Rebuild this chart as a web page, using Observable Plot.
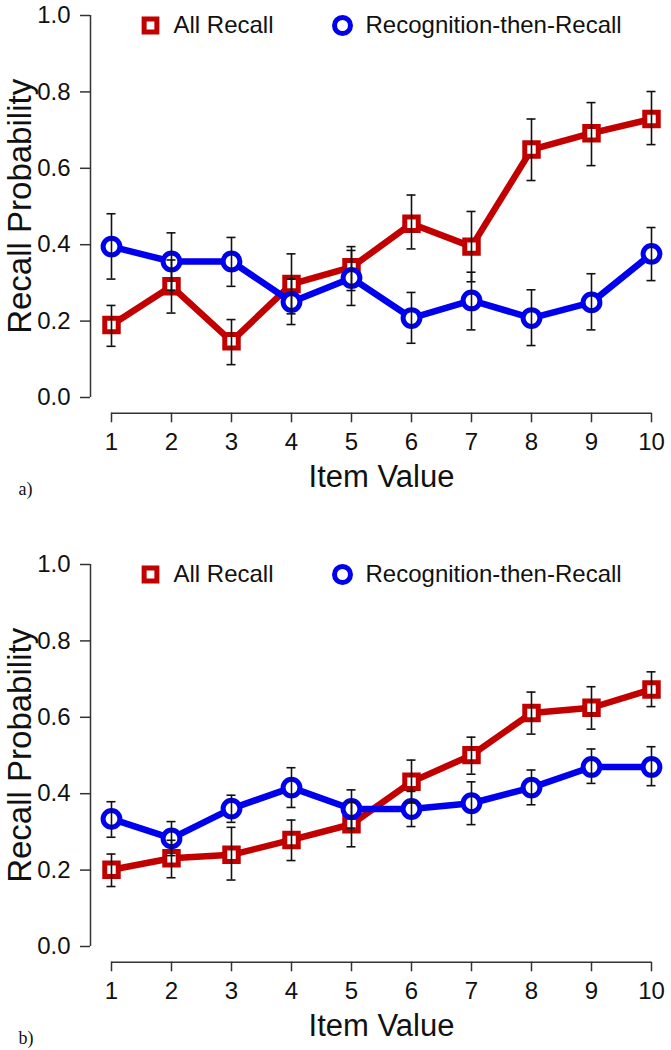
<!DOCTYPE html>
<html><head><meta charset="utf-8">
<script src="https://cdn.jsdelivr.net/npm/d3@7"></script>
<script src="https://cdn.jsdelivr.net/npm/@observablehq/plot@0.6"></script>
<style>
body{margin:0;background:#fff;width:671px;height:1050px;overflow:hidden}
#chart svg{display:block}
</style></head><body><div id="chart"></div>
<script>
// ---- data ----
const items = [1, 2, 3, 4, 5, 6, 7, 8, 9, 10];
const yTicks = [0, 0.2, 0.4, 0.6, 0.8, 1.0];
const seriesNames = ["All Recall", "Recognition-then-Recall"];
const panelTags = ["a)", "b)"];

// Panel a
const aRecall   = [0.190, 0.291, 0.147, 0.297, 0.341, 0.455, 0.395, 0.649, 0.692, 0.729];
const aRecallLo = [0.134, 0.221, 0.086, 0.219, 0.280, 0.389, 0.303, 0.568, 0.607, 0.662];
const aRecallHi = [0.241, 0.360, 0.204, 0.376, 0.395, 0.530, 0.487, 0.729, 0.772, 0.801];
const aRecog    = [0.395, 0.356, 0.356, 0.250, 0.313, 0.208, 0.254, 0.208, 0.249, 0.376];
const aRecogLo  = [0.310, 0.281, 0.291, 0.191, 0.241, 0.142, 0.177, 0.136, 0.177, 0.306];
const aRecogHi  = [0.481, 0.431, 0.419, 0.310, 0.385, 0.275, 0.328, 0.282, 0.324, 0.445];

// Panel b
const bRecall   = [0.201, 0.231, 0.240, 0.279, 0.320, 0.431, 0.501, 0.611, 0.625, 0.673];
const bRecallLo = [0.157, 0.180, 0.174, 0.225, 0.261, 0.376, 0.451, 0.556, 0.569, 0.628];
const bRecallHi = [0.242, 0.278, 0.312, 0.331, 0.378, 0.488, 0.548, 0.666, 0.680, 0.719];
const bRecog    = [0.334, 0.283, 0.361, 0.416, 0.360, 0.360, 0.375, 0.416, 0.470, 0.470];
const bRecogLo  = [0.286, 0.238, 0.325, 0.364, 0.310, 0.314, 0.319, 0.371, 0.427, 0.421];
const bRecogHi  = [0.379, 0.327, 0.396, 0.468, 0.410, 0.406, 0.431, 0.462, 0.517, 0.523];

const RED = "#c20000";
const BLUE = "#0000ee";

function rows(v, lo, hi) {
  return items.map((x, i) => ({x, y: v[i], lo: lo[i], hi: hi[i]}));
}

function panel(recall, recog, tag, height) {
  const marginBottom = height - 412.7;
  const both = recall.concat(recog);
  const cap = 0.075;
  return Plot.plot({
    width: 671,
    height,
    marginLeft: 90,
    marginRight: 20,
    marginTop: 15,
    marginBottom,
    x: {domain: [1, 10], insetLeft: 21},
    y: {domain: [0, 1], insetBottom: 15.7},
    style: {fontFamily: "'Liberation Sans', Arial, sans-serif", fontSize: "24px", color: "#111", background: "#fff"},
    marks: [
      // axes
      Plot.ruleX([1], {y1: 0, y2: 1, dx: -21, stroke: "#333", strokeWidth: 1.5}),
      Plot.ruleY([0], {x1: 1, x2: 10, dy: 15.7, stroke: "#333", strokeWidth: 1.5}),
      Plot.axisY({ticks: yTicks, tickFormat: d3.format(".1f"), tickSize: 10, tickPadding: 10, label: null, stroke: "#333", strokeWidth: 1.5}),
      Plot.axisX({ticks: items, tickFormat: d => String(d), tickSize: 9.6, tickPadding: 9.7, label: null, stroke: "#333", strokeWidth: 1.5}),
      // series
      Plot.line(recall, {x: "x", y: "y", stroke: RED, strokeWidth: 6.5}),
      Plot.dot(recall, {x: "x", y: "y", symbol: "square", r: 7.6, stroke: RED, strokeWidth: 5, fill: "#fff"}),
      Plot.line(recog, {x: "x", y: "y", stroke: BLUE, strokeWidth: 6.5}),
      Plot.dot(recog, {x: "x", y: "y", symbol: "circle", r: 8.4, stroke: BLUE, strokeWidth: 5, fill: "#fff"}),
      // error bars
      Plot.ruleX(both, {x: "x", y1: "lo", y2: "hi", stroke: "#111", strokeWidth: 1.6}),
      Plot.ruleY(both, {y: "hi", x1: d => d.x - cap, x2: d => d.x + cap, stroke: "#111", strokeWidth: 1.6}),
      Plot.ruleY(both, {y: "lo", x1: d => d.x - cap, x2: d => d.x + cap, stroke: "#111", strokeWidth: 1.6}),
      // legend
      Plot.dot([0], {frameAnchor: "top-left", dx: 60, dy: 10, symbol: "square", r: 7.2, stroke: RED, strokeWidth: 5, fill: "#fff"}),
      Plot.text([seriesNames[0]], {frameAnchor: "top-left", dx: 83, dy: 10, textAnchor: "start", lineAnchor: "middle", fontSize: 24, fill: "#111"}),
      Plot.dot([0], {frameAnchor: "top-left", dx: 252, dy: 10, symbol: "circle", r: 8, stroke: BLUE, strokeWidth: 5, fill: "#fff"}),
      Plot.text([seriesNames[1]], {frameAnchor: "top-left", dx: 275, dy: 10, textAnchor: "start", lineAnchor: "middle", fontSize: 24, fill: "#111"}),
      // axis titles
      Plot.text(["Recall Probability"], {frameAnchor: "left", rotate: -90, dx: -60, dy: -8, textAnchor: "middle", lineAnchor: "bottom", fontSize: 33, fill: "#111"}),
      Plot.text(["Item Value"], {frameAnchor: "bottom", dx: 10.5, dy: 73.3, textAnchor: "middle", lineAnchor: "bottom", fontSize: 31, fill: "#111"}),
      Plot.text([tag], {frameAnchor: "bottom-left", dx: -72, dy: 81.3, textAnchor: "start", lineAnchor: "bottom", fontSize: 18, fontFamily: "'Liberation Serif', 'Times New Roman', serif", fill: "#111"})
    ]
  });
}

const chart = document.getElementById("chart");
chart.appendChild(panel(rows(aRecall, aRecallLo, aRecallHi), rows(aRecog, aRecogLo, aRecogHi), panelTags[0], 549));
chart.appendChild(panel(rows(bRecall, bRecallLo, bRecallHi), rows(bRecog, bRecogLo, bRecogHi), panelTags[1], 501));
</script></body></html>
